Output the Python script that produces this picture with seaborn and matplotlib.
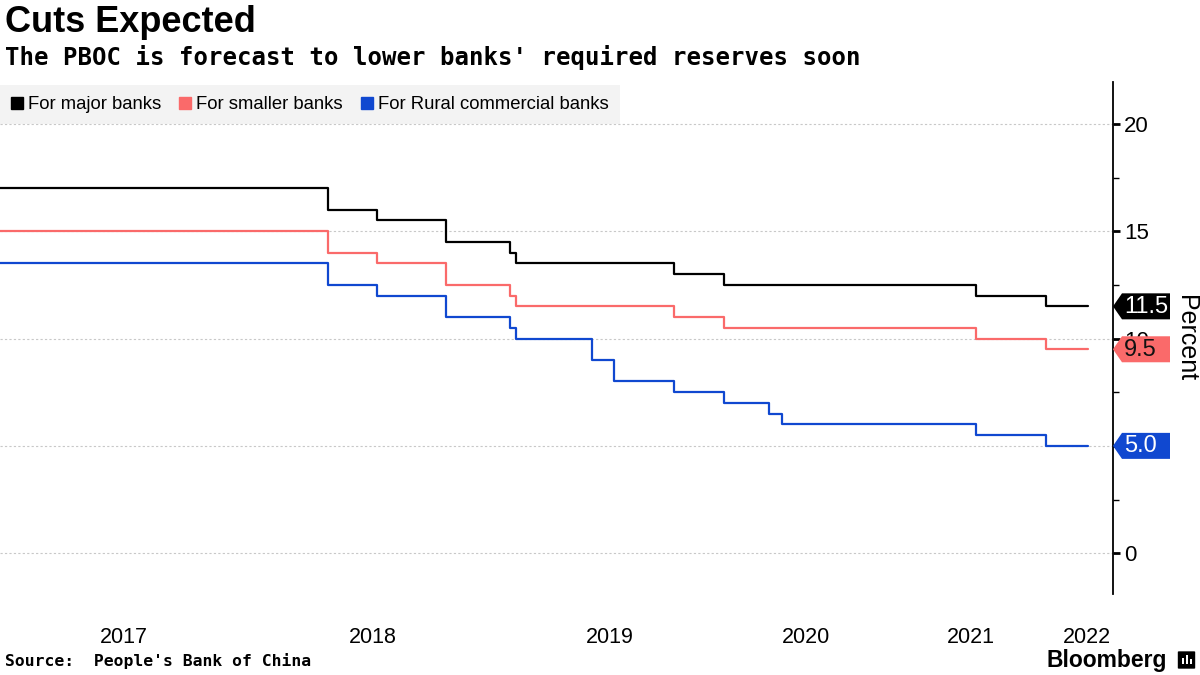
import pandas as pd
import matplotlib.pyplot as plt
import matplotlib.lines as mlines
import matplotlib.patches as mpatches
import matplotlib.transforms as mtransforms
import seaborn as sns

# series + colours
series = ["For major banks", "For smaller banks", "For Rural commercial banks"]
colors = ["#000000", "#fa6a6a", "#1048d0"]

# positions along the time axis (chart units, calendar spacing is uneven)
cut_pos = [0, 328, 377, 446, 510, 516, 674, 724, 976, 1046]
major = [17, 16, 15.5, 14.5, 14, 13.5, 13, 12.5, 12, 11.5]
smaller = [15, 14, 13.5, 12.5, 12, 11.5, 11, 10.5, 10, 9.5]
rural_pos = [0, 328, 377, 446, 510, 516, 592, 614, 674, 724, 769, 782, 976, 1046]
rural = [13.5, 12.5, 12, 11, 10.5, 10, 9, 8, 7.5, 7, 6.5, 6, 5.5, 5]
end_pos = 1088

year_pos = [124, 373, 610, 806, 971, 1087]
year_labels = ["2017", "2018", "2019", "2020", "2021", "2022"]
y_ticks = [0, 5, 10, 15, 20]

frames = []
for name, pos, vals in [(series[0], cut_pos, major),
                        (series[1], cut_pos, smaller),
                        (series[2], rural_pos, rural)]:
    frames.append(pd.DataFrame({"pos": pos + [end_pos],
                                "value": vals + [vals[-1]],
                                "series": name}))
df = pd.concat(frames, ignore_index=True)

sns.set_style("white")
plt.rcParams["font.family"] = ["Liberation Sans Narrow", "Liberation Sans", "DejaVu Sans"]
plt.rcParams["text.color"] = "black"
plt.rcParams["axes.labelcolor"] = "black"
plt.rcParams["xtick.color"] = "black"
plt.rcParams["ytick.color"] = "black"

fig = plt.figure(figsize=(12, 6.75), dpi=100)
ax = fig.add_axes([0, 81 / 675, 1113 / 1200, 512 / 675])

sns.lineplot(data=df, x="pos", y="value", hue="series", hue_order=series,
             palette=colors, drawstyle="steps-post", estimator=None, sort=False,
             linewidth=1.6, legend=False, ax=ax)

ax.set_xlim(0, 1113)
ax.set_ylim(-1.9, 21.95)
ax.set_xlabel("")

for s in ["left", "top", "bottom"]:
    ax.spines[s].set_visible(False)
ax.spines["right"].set_color("black")
ax.spines["right"].set_linewidth(1.3)

ax.yaxis.tick_right()
ax.set_yticks(y_ticks)
ax.set_yticks([2.5, 7.5, 12.5, 17.5], minor=True)
ax.tick_params(axis="y", which="major", direction="out", length=5, width=2,
               labelsize=16, pad=3)
ax.tick_params(axis="y", which="minor", direction="out", length=4, width=1)
ax.set_xticks(year_pos)
ax.set_xticklabels(year_labels)
ax.tick_params(axis="x", length=0, labelsize=15.5, pad=24)
ax.grid(axis="y", which="major", color="#c8c8c8", linestyle=(0, (2, 2)), linewidth=0.8)
ax.grid(axis="x", visible=False)

ax.yaxis.set_label_position("right")
ax.set_ylabel("Percent", rotation=270, fontsize=18, labelpad=18, va="bottom")

# legend
handles = [mlines.Line2D([], [], color=c, marker="s", linestyle="none", markersize=8)
           for c in colors]
leg = ax.legend(handles, series, loc="upper left", bbox_to_anchor=(0, 1 - 3 / 512),
                ncol=3, frameon=True, fancybox=False, fontsize=13.3,
                handlelength=0.6, handletextpad=0.3, columnspacing=1.0,
                borderaxespad=0, borderpad=0.6)
leg.get_frame().set_facecolor("#f0f0f0")
leg.get_frame().set_edgecolor("none")

# end-value tags on the axis
tag_text = ["white", "#111111", "white"]
last_vals = [major[-1], smaller[-1], rural[-1]]
for val, c, tc in zip(last_vals, colors, tag_text):
    tr = fig.dpi_scale_trans + mtransforms.ScaledTranslation(1.0, val, ax.get_yaxis_transform())
    verts = [(0.0, 0.0), (0.09, 0.13), (0.57, 0.13), (0.57, -0.13), (0.09, -0.13)]
    fig.add_artist(mpatches.Polygon(verts, closed=True, facecolor=c, edgecolor="none",
                                    transform=tr, zorder=5))
    fig.text(0.11, -0.005, f"{val:.1f}", transform=tr, color=tc, fontsize=17,
             ha="left", va="center", zorder=6)

# titles and footer
fig.text(5 / 1200, 1 - 5 / 675, "Cuts Expected", fontsize=26, fontweight="bold",
         family=["Liberation Sans", "DejaVu Sans"], va="top")
fig.text(5 / 1200, 1 - 45 / 675,
         "The PBOC is forecast to lower banks' required reserves soon",
         fontsize=17.3, fontweight="bold", family=["DejaVu Sans Mono"], va="top")
fig.text(5 / 1200, 1 - 653 / 675, "Source:  People's Bank of China", fontsize=11.8,
         fontweight="bold", family=["DejaVu Sans Mono"], va="top")
fig.text(1167 / 1200, 1 - 667 / 675, "Bloomberg", fontsize=16.5, fontweight="bold",
         family=["Liberation Sans", "DejaVu Sans"], ha="right", va="baseline")

# small Bloomberg icon
icon = mpatches.FancyBboxPatch((1179 / 1200, 1 - 668 / 675), 15 / 1200, 16 / 675,
                               boxstyle="round,pad=0.001", transform=fig.transFigure,
                               facecolor="black", edgecolor="none")
fig.add_artist(icon)
for i, h in enumerate([6, 9, 5]):
    fig.add_artist(mpatches.Rectangle(((1182 + i * 4) / 1200, 1 - 664 / 675), 2 / 1200,
                                      h / 675, transform=fig.transFigure,
                                      facecolor="white", edgecolor="none"))

fig.savefig("out.png", dpi=100)
